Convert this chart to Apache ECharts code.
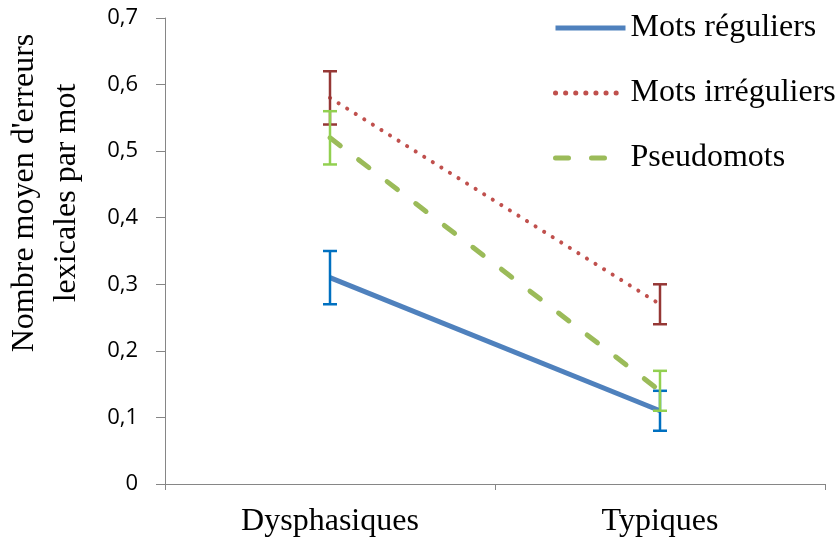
<!DOCTYPE html>
<html><head><meta charset="utf-8">
<script src="https://cdn.jsdelivr.net/npm/echarts@6/dist/echarts.min.js"></script>
<style>html,body{margin:0;padding:0;background:#fff}#c{width:838px;height:538px}</style>
</head><body><div id="c"></div>
<script>
const categories = ['Dysphasiques', 'Typiques'];
const seriesNames = ['Mots réguliers', 'Mots irréguliers', 'Pseudomots'];
const regular = [0.31, 0.11];
const regularLow = [0.27, 0.08];
const regularHigh = [0.35, 0.14];
const irregular = [0.58, 0.27];
const irregularLow = [0.54, 0.24];
const irregularHigh = [0.62, 0.30];
const pseudo = [0.52, 0.14];
const pseudoLow = [0.48, 0.11];
const pseudoHigh = [0.56, 0.17];
const yTicks = [0, 0.1, 0.2, 0.3, 0.4, 0.5, 0.6, 0.7];

const serif = '"Liberation Serif", "DejaVu Serif", serif';
const sans = '"Open Sans", "Liberation Sans", sans-serif';

function errSeries(low, high, color) {
  return {
    type: 'custom', silent: true, z: 5,
    data: categories.map((c, i) => [i, low[i], high[i]]),
    renderItem: function (params, api) {
      const lo = api.coord([api.value(0), api.value(1)]);
      const hi = api.coord([api.value(0), api.value(2)]);
      const w = 7;
      const st = { stroke: color, lineWidth: 2.5 };
      return { type: 'group', children: [
        { type: 'line', shape: { x1: lo[0], y1: lo[1], x2: hi[0], y2: hi[1] }, style: st },
        { type: 'line', shape: { x1: lo[0] - w, y1: lo[1], x2: lo[0] + w, y2: lo[1] }, style: st },
        { type: 'line', shape: { x1: hi[0] - w, y1: hi[1], x2: hi[0] + w, y2: hi[1] }, style: st }
      ]};
    }
  };
}

const chart = echarts.init(document.getElementById('c'));
chart.setOption({
  animation: false,
  backgroundColor: '#fff',
  grid: { left: 165, right: 13, top: 18, bottom: 54 },
  legend: {
    orient: 'vertical', left: 548, top: 7, itemGap: 33, itemWidth: 70, itemHeight: 14,
    itemStyle: { opacity: 0, borderWidth: 0 },
    lineStyle: { width: 5 },
    textStyle: { fontFamily: serif, fontSize: 32, color: '#000' },
    data: seriesNames
  },
  xAxis: {
    type: 'category', data: categories, boundaryGap: true,
    axisLine: { lineStyle: { color: '#868686', width: 1 } },
    axisTick: { show: true, length: 6, lineStyle: { color: '#868686' } },
    axisLabel: { fontFamily: serif, fontSize: 32, color: '#000', margin: 22 }
  },
  yAxis: {
    type: 'value', min: 0, max: 0.7, interval: 0.1,
    axisLine: { show: true, lineStyle: { color: '#868686', width: 1 } },
    axisTick: { show: true, length: 9, lineStyle: { color: '#868686' } },
    splitLine: { show: false },
    axisLabel: { fontFamily: sans, fontSize: 22, color: '#000', margin: 27,
      formatter: v => v.toFixed(1).replace('.', ',').replace(/^0,0$/, '0') }
  },
  graphic: [{
    type: 'text', rotation: Math.PI / 2,
    x: 46, y: 193,
    style: { text: "Nombre moyen d'erreurs\nlexicales par mot", fontFamily: serif, fontSize: 32,
      fill: '#000', align: 'center', verticalAlign: 'middle', lineHeight: 42 }
  }],
  series: [
    { name: seriesNames[0], type: 'line', data: regular, symbol: 'none', z: 3,
      lineStyle: { color: '#4F81BD', width: 5 }, itemStyle: { color: '#4F81BD' } },
    { name: seriesNames[1], type: 'line', data: irregular, symbol: 'none', z: 3,
      lineStyle: { color: '#C0504D', width: 4, type: [0.1, 10], cap: 'round' }, itemStyle: { color: '#C0504D' } },
    { name: seriesNames[2], type: 'line', data: pseudo, symbol: 'none', z: 3,
      lineStyle: { color: '#9BBB59', width: 5, type: [13, 23], cap: 'round' }, itemStyle: { color: '#9BBB59' } },
    errSeries(regularLow, regularHigh, '#0070C0'),
    errSeries(irregularLow, irregularHigh, '#953735'),
    errSeries(pseudoLow, pseudoHigh, '#92D050')
  ]
});
</script></body></html>
